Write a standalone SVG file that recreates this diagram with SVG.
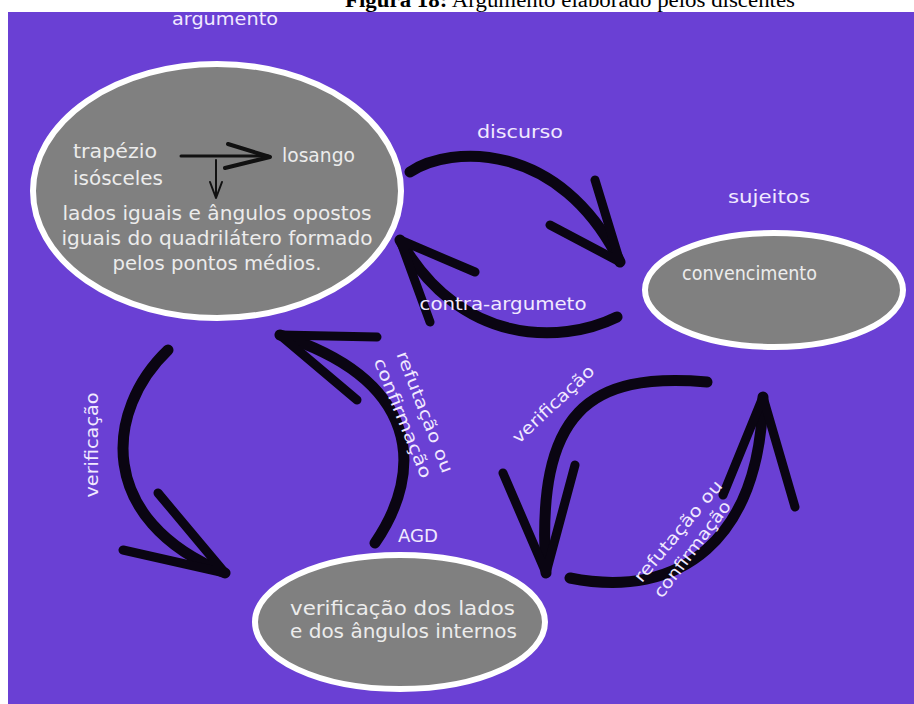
<svg xmlns="http://www.w3.org/2000/svg" width="914" height="704" viewBox="0 0 914 704">
<style>
.bg{fill:#6a40d4}
.node{fill:#808080;stroke:#ffffff;stroke-width:6}
.lbl{font-family:"DejaVu Sans",sans-serif;fill:#f1e9ff;font-size:17px}
.in{font-family:"DejaVu Sans",sans-serif;fill:#ececec;font-size:19px}
.arc{fill:none;stroke:#0a0512;stroke-width:11;stroke-linecap:round;stroke-linejoin:round}
.barb{fill:none;stroke:#0a0512;stroke-width:9;stroke-linecap:round;stroke-linejoin:round}
.thin{fill:none;stroke:#111111;stroke-linecap:round;stroke-linejoin:round}
.cap{font-family:"Liberation Serif",serif;font-size:20px;fill:#000}
</style>
<rect width="914" height="704" fill="#ffffff"/>
<text class="cap" x="345" y="7" textLength="450" lengthAdjust="spacingAndGlyphs"><tspan font-weight="bold">Figura 18:</tspan> Argumento elaborado pelos discentes</text>
<rect class="bg" x="8" y="12" width="906" height="692"/>

<g id="connectors">
  <g id="discurso">
    <path class="arc" d="M410,172 C450,145 560,140 620,262"/>
    <path class="barb" d="M595,180 L620,262 L550,225"/>
    <text class="lbl" x="520" y="138" text-anchor="middle" textLength="86" lengthAdjust="spacingAndGlyphs">discurso</text>
  </g>
  <g id="contra">
    <path class="arc" d="M617,317 C560,345 460,345 400,240"/>
    <path class="barb" d="M475,272 L400,240 L430,322"/>
    <text class="lbl" x="503" y="310" text-anchor="middle" textLength="167" lengthAdjust="spacingAndGlyphs">contra-argumeto</text>
  </g>
  <g id="verif-left">
    <path class="arc" d="M168,350 C105,410 95,520 225,573"/>
    <path class="barb" d="M158,493 L225,573 L123,550"/>
    <text class="lbl" transform="translate(92,445) rotate(-90)" x="0" y="6" text-anchor="middle" textLength="105" lengthAdjust="spacingAndGlyphs">verificação</text>
  </g>
  <g id="refut-left">
    <path class="arc" d="M375,543 C425,470 420,380 280,335"/>
    <path class="barb" d="M377,337 L280,335 L357,400"/>
    <text class="lbl" transform="translate(425,412) rotate(69)" x="0" y="6" text-anchor="middle" textLength="129" lengthAdjust="spacingAndGlyphs">refutação ou</text>
    <text class="lbl" transform="translate(403,418) rotate(68)" x="0" y="6" text-anchor="middle" textLength="128" lengthAdjust="spacingAndGlyphs">confirmação</text>
  </g>
  <g id="verif-right">
    <path class="arc" d="M707,382 C590,372 535,410 546,573"/>
    <path class="barb" d="M503,473 L546,573 L575,465"/>
    <text class="lbl" transform="translate(553,404) rotate(-43)" x="0" y="6" text-anchor="middle" textLength="105" lengthAdjust="spacingAndGlyphs">verificação</text>
  </g>
  <g id="refut-right">
    <path class="arc" stroke-width="13" d="M570,578 C680,600 760,540 763,397"/>
    <path class="barb" d="M723,495 L763,397 L795,507"/>
    <text class="lbl" transform="translate(678,531) rotate(-50)" x="0" y="6" text-anchor="middle" textLength="127" lengthAdjust="spacingAndGlyphs">refutação ou</text>
    <text class="lbl" transform="translate(692,549) rotate(-53)" x="0" y="6" text-anchor="middle" textLength="116" lengthAdjust="spacingAndGlyphs">confirmação</text>
  </g>
</g>

<g id="argumento">
  <text class="lbl" x="225" y="25" text-anchor="middle" textLength="106" lengthAdjust="spacingAndGlyphs">argumento</text>
  <ellipse class="node" cx="217" cy="191" rx="184" ry="127"/>
  <text class="in" x="73" y="158" textLength="84" lengthAdjust="spacingAndGlyphs">trapézio</text>
  <text class="in" x="73" y="185" textLength="90" lengthAdjust="spacingAndGlyphs">isósceles</text>
  <text class="in" x="282" y="162" textLength="73" lengthAdjust="spacingAndGlyphs">losango</text>
  <path class="thin" stroke-width="3" d="M181,156 L268,156"/>
  <path class="thin" stroke-width="4" d="M228,144 L270,157 L225,168"/>
  <path class="thin" stroke-width="2" d="M216,160 L216,198 M210,182 L216,198 L222,182"/>
  <text class="in" x="217" y="220" text-anchor="middle" textLength="309" lengthAdjust="spacingAndGlyphs">lados iguais e ângulos opostos</text>
  <text class="in" x="217" y="245" text-anchor="middle" textLength="311" lengthAdjust="spacingAndGlyphs">iguais do quadrilátero formado</text>
  <text class="in" x="217" y="270" text-anchor="middle" textLength="209" lengthAdjust="spacingAndGlyphs">pelos pontos médios.</text>
</g>

<g id="sujeitos">
  <text class="lbl" x="769" y="203" text-anchor="middle" textLength="82" lengthAdjust="spacingAndGlyphs">sujeitos</text>
  <ellipse class="node" cx="774" cy="290" rx="129" ry="57"/>
  <text class="in" x="682" y="280" textLength="135" lengthAdjust="spacingAndGlyphs">convencimento</text>
</g>

<g id="agd">
  <text class="lbl" x="418" y="542" text-anchor="middle" textLength="40" lengthAdjust="spacingAndGlyphs">AGD</text>
  <ellipse class="node" cx="400" cy="622" rx="145" ry="67"/>
  <text class="in" x="290" y="615" textLength="225" lengthAdjust="spacingAndGlyphs">verificação dos lados</text>
  <text class="in" x="290" y="638" textLength="227" lengthAdjust="spacingAndGlyphs">e dos ângulos internos</text>
</g>
</svg>
